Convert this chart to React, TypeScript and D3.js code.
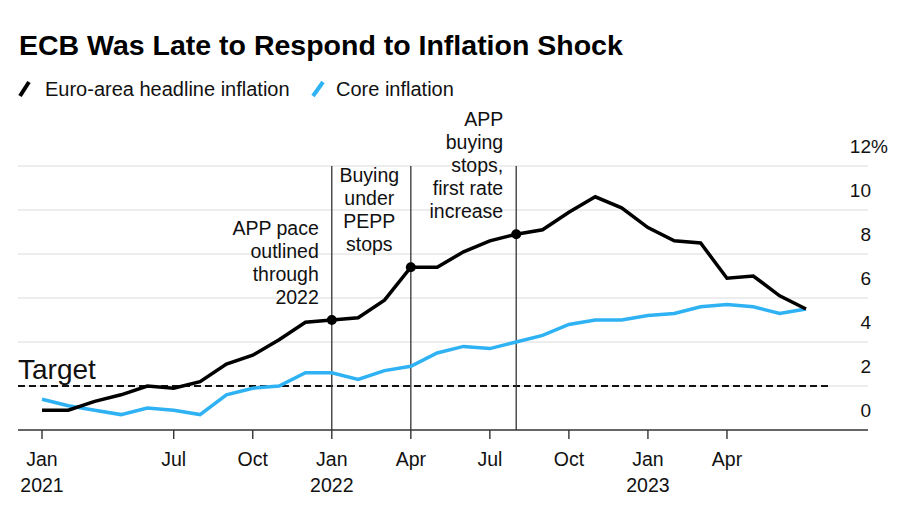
import React from "react";
import * as d3 from "d3";

const months: string[] = [
  "2021-01","2021-02","2021-03","2021-04","2021-05","2021-06","2021-07","2021-08","2021-09","2021-10","2021-11","2021-12",
  "2022-01","2022-02","2022-03","2022-04","2022-05","2022-06","2022-07","2022-08","2022-09","2022-10","2022-11","2022-12",
  "2023-01","2023-02","2023-03","2023-04","2023-05","2023-06",
];
const headline: number[] = [
  0.9, 0.9, 1.3, 1.6, 2.0, 1.9, 2.2, 3.0, 3.4, 4.1, 4.9, 5.0,
  5.1, 5.9, 7.4, 7.4, 8.1, 8.6, 8.9, 9.1, 9.9, 10.6, 10.1, 9.2,
  8.6, 8.5, 6.9, 7.0, 6.1, 5.5,
];
const core: number[] = [
  1.4, 1.1, 0.9, 0.7, 1.0, 0.9, 0.7, 1.6, 1.9, 2.0, 2.6, 2.6,
  2.3, 2.7, 2.9, 3.5, 3.8, 3.7, 4.0, 4.3, 4.8, 5.0, 5.0, 5.2,
  5.3, 5.6, 5.7, 5.6, 5.3, 5.5,
];
const tickIndex: number[] = [0, 5, 8, 11, 14, 17, 20, 23, 26];
const tickMonth: string[] = ["Jan", "Jul", "Oct", "Jan", "Apr", "Jul", "Oct", "Jan", "Apr"];
const tickYear: string[] = ["2021", "", "", "2022", "", "", "", "2023", ""];
const yTicks: number[] = [0, 2, 4, 6, 8, 10, 12];
const target = 2;
const eventIndex: number[] = [11, 14, 18];
const eventText: string[][] = [
  ["APP pace", "outlined", "through", "2022"],
  ["Buying", "under", "PEPP", "stops"],
  ["APP", "buying", "stops,", "first rate", "increase"],
];
const seriesNames: string[] = ["Euro-area headline inflation", "Core inflation"];

const BLUE = "#2eb2f3";
const FONT = "'Liberation Sans', Arial, Helvetica, sans-serif";

export default function App() {
  const W = 900, H = 510;
  const x = d3.scaleLinear().domain([0, months.length - 1]).range([42, 806]);
  const y = d3.scaleLinear().domain([0, 12]).range([430, 166]);
  const line = d3.line<number>().x((_, i) => x(i)).y((d) => y(d));
  const left = 18, right = 868;

  return (
    <svg width={W} height={H} style={{ position: "absolute", left: 0, top: 0, background: "#fff" }} fontFamily={FONT}>
      <rect x={0} y={0} width={W} height={H} fill="#fff" />
      <text x={19} y={55} fontSize={28.5} fontWeight={700} fill="#000">
        ECB Was Late to Respond to Inflation Shock
      </text>
      {/* legend */}
      <line x1={20} y1={96} x2={29} y2={82} stroke="#000" strokeWidth={4} />
      <text x={45} y={96} fontSize={20} fill="#111">{seriesNames[0]}</text>
      <line x1={313} y1={96} x2={323} y2={82} stroke={BLUE} strokeWidth={4} />
      <text x={336} y={96} fontSize={20} fill="#111">{seriesNames[1]}</text>

      {/* gridlines */}
      {yTicks.filter((t) => t > 0).map((t) => (
        <line key={t} x1={left} x2={right} y1={y(t)} y2={y(t)} stroke="#dcdcdc" strokeWidth={1.2} />
      ))}
      {yTicks.map((t) => (
        <g key={"yl" + t}>
          <text x={871} y={y(t) - 13} fontSize={19} textAnchor="end" fill="#111">{t}</text>
          {t === 12 && <text x={871} y={y(t) - 13} fontSize={19} fill="#111">%</text>}
        </g>
      ))}

      {/* target */}
      <line x1={left} x2={829} y1={y(target)} y2={y(target)} stroke="#111" strokeWidth={1.8} strokeDasharray="7,4" />
      <text x={18} y={379} fontSize={28} fill="#111">Target</text>

      {/* event lines */}
      {eventIndex.map((i) => (
        <line key={"ev" + i} x1={x(i)} x2={x(i)} y1={y(12)} y2={430} stroke="#333" strokeWidth={1.3} />
      ))}
      {eventText[0].map((s, k) => (
        <text key={"a" + k} x={x(eventIndex[0]) - 13} y={235 + k * 23} fontSize={19.5} textAnchor="end" fill="#111">{s}</text>
      ))}
      {eventText[1].map((s, k) => (
        <text key={"b" + k} x={(x(eventIndex[0]) + x(eventIndex[1])) / 2 - 2} y={182 + k * 23} fontSize={19.5} textAnchor="middle" fill="#111">{s}</text>
      ))}
      {eventText[2].map((s, k) => (
        <text key={"c" + k} x={x(eventIndex[2]) - 13} y={126 + k * 23} fontSize={19.5} textAnchor="end" fill="#111">{s}</text>
      ))}

      {/* series */}
      <path d={line(core) || ""} fill="none" stroke={BLUE} strokeWidth={3.5} strokeLinejoin="miter" />
      <path d={line(headline) || ""} fill="none" stroke="#000" strokeWidth={3.5} strokeLinejoin="miter" />
      {eventIndex.map((i) => (
        <circle key={"dot" + i} cx={x(i)} cy={y(headline[i])} r={5} fill="#000" />
      ))}

      {/* x axis */}
      <line x1={left} x2={right} y1={430} y2={430} stroke="#333" strokeWidth={1.6} />
      {tickIndex.map((ti, k) => (
        <g key={"t" + k}>
          <line x1={x(ti)} x2={x(ti)} y1={430} y2={439} stroke="#333" strokeWidth={1.4} />
          <text x={x(ti)} y={466} fontSize={19.5} textAnchor="middle" fill="#111">{tickMonth[k]}</text>
          {tickYear[k] && (
            <text x={x(ti)} y={492} fontSize={19.5} textAnchor="middle" fill="#111">{tickYear[k]}</text>
          )}
        </g>
      ))}
    </svg>
  );
}
